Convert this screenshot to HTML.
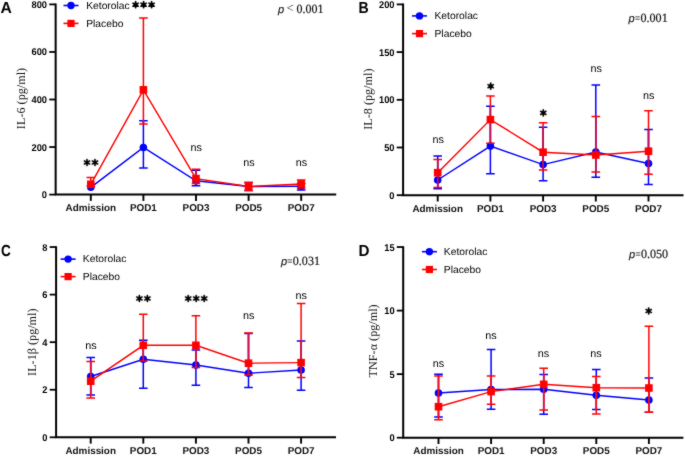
<!DOCTYPE html>
<html><head><meta charset="utf-8"><style>html,body{margin:0;padding:0;background:#fff}svg{display:block}</style></head><body>
<svg width="685" height="456" viewBox="0 0 685 456" text-rendering="geometricPrecision">
<defs><filter id="bl" x="0" y="0" width="685" height="456" filterUnits="userSpaceOnUse" color-interpolation-filters="sRGB"><feConvolveMatrix order="3" kernelMatrix="0.5 1 0.5 1 12.0 1 0.5 1 0.5" edgeMode="duplicate" preserveAlpha="true"/></filter></defs>
<g filter="url(#bl)">
<rect width="685" height="456" fill="#fff"/>
<path d="M55.65,3.6000000000000005V194.6H336.2" fill="none" stroke="#000" stroke-width="2" stroke-linejoin="miter"/>
<line x1="49.25" y1="194.60" x2="55.65" y2="194.60" stroke="#000" stroke-width="1.8"/>
<text transform="translate(47.05,198.10) scale(0.95,1)" font-family="Liberation Sans" font-weight="bold" font-size="9.8" text-anchor="end" fill="#000">0</text>
<line x1="49.25" y1="147.05" x2="55.65" y2="147.05" stroke="#000" stroke-width="1.8"/>
<text transform="translate(47.05,150.55) scale(0.95,1)" font-family="Liberation Sans" font-weight="bold" font-size="9.8" text-anchor="end" fill="#000">200</text>
<line x1="49.25" y1="99.50" x2="55.65" y2="99.50" stroke="#000" stroke-width="1.8"/>
<text transform="translate(47.05,103.00) scale(0.95,1)" font-family="Liberation Sans" font-weight="bold" font-size="9.8" text-anchor="end" fill="#000">400</text>
<line x1="49.25" y1="51.95" x2="55.65" y2="51.95" stroke="#000" stroke-width="1.8"/>
<text transform="translate(47.05,55.45) scale(0.95,1)" font-family="Liberation Sans" font-weight="bold" font-size="9.8" text-anchor="end" fill="#000">600</text>
<line x1="49.25" y1="4.40" x2="55.65" y2="4.40" stroke="#000" stroke-width="1.8"/>
<text transform="translate(47.05,7.90) scale(0.95,1)" font-family="Liberation Sans" font-weight="bold" font-size="9.8" text-anchor="end" fill="#000">800</text>
<line x1="90.80" y1="194.6" x2="90.80" y2="200.9" stroke="#000" stroke-width="1.9"/>
<text x="90.80" y="211.00" font-family="Liberation Sans" font-weight="bold" font-size="9.9" text-anchor="middle" fill="#111">Admission</text>
<line x1="143.40" y1="194.6" x2="143.40" y2="200.9" stroke="#000" stroke-width="1.9"/>
<text x="143.40" y="211.00" font-family="Liberation Sans" font-weight="bold" font-size="9.9" text-anchor="middle" fill="#111">POD1</text>
<line x1="196.00" y1="194.6" x2="196.00" y2="200.9" stroke="#000" stroke-width="1.9"/>
<text x="196.00" y="211.00" font-family="Liberation Sans" font-weight="bold" font-size="9.9" text-anchor="middle" fill="#111">POD3</text>
<line x1="248.60" y1="194.6" x2="248.60" y2="200.9" stroke="#000" stroke-width="1.9"/>
<text x="248.60" y="211.00" font-family="Liberation Sans" font-weight="bold" font-size="9.9" text-anchor="middle" fill="#111">POD5</text>
<line x1="301.20" y1="194.6" x2="301.20" y2="200.9" stroke="#000" stroke-width="1.9"/>
<text x="301.20" y="211.00" font-family="Liberation Sans" font-weight="bold" font-size="9.9" text-anchor="middle" fill="#111">POD7</text>
<text transform="translate(24.6,98.50) rotate(-90)" font-family="Liberation Serif" font-size="12.2" text-anchor="middle" fill="#111">IL-6 (pg/ml)</text>
<text transform="translate(0.6,13.1) scale(0.98,1)" font-family="Liberation Sans" font-weight="bold" font-size="16" fill="#000">A</text>
<polyline points="90.80,187.30 143.40,147.50 196.00,180.80 248.60,186.50 301.20,186.30" fill="none" stroke="#0000ff" stroke-width="1.45"/>
<path d="M143.40,167.90V120.70M139.10,167.90H147.70M139.10,120.70H147.70" stroke="#0000ff" stroke-width="1.5" fill="none"/>
<path d="M196.00,185.70V170.25M191.70,185.70H200.30M191.70,170.25H200.30" stroke="#0000ff" stroke-width="1.5" fill="none"/>
<path d="M248.60,190.50V182.40M244.30,190.50H252.90M244.30,182.40H252.90" stroke="#0000ff" stroke-width="1.5" fill="none"/>
<path d="M301.20,190.00V183.40M296.90,190.00H305.50M296.90,183.40H305.50" stroke="#0000ff" stroke-width="1.5" fill="none"/>
<circle cx="90.80" cy="187.30" r="3.8" fill="#0000ff"/>
<circle cx="143.40" cy="147.50" r="3.8" fill="#0000ff"/>
<circle cx="196.00" cy="180.80" r="3.8" fill="#0000ff"/>
<circle cx="248.60" cy="186.50" r="3.8" fill="#0000ff"/>
<circle cx="301.20" cy="186.30" r="3.8" fill="#0000ff"/>
<polyline points="90.80,184.30 143.40,89.85 196.00,178.60 248.60,186.50 301.20,184.00" fill="none" stroke="#ff0000" stroke-width="1.45"/>
<path d="M90.80,186.00V177.40M86.50,186.00H95.10M86.50,177.40H95.10" stroke="#ff0000" stroke-width="1.5" fill="none"/>
<path d="M143.40,124.00V17.90M139.10,124.00H147.70M139.10,17.90H147.70" stroke="#ff0000" stroke-width="1.5" fill="none"/>
<path d="M143.40,124.00V120.70" stroke="#c01050" stroke-width="1.5" fill="none"/>
<path d="M196.00,183.40V169.30M191.70,183.40H200.30M191.70,169.30H200.30" stroke="#ff0000" stroke-width="1.5" fill="none"/>
<path d="M196.00,183.40V170.25" stroke="#c01050" stroke-width="1.5" fill="none"/>
<path d="M248.60,190.50V182.40M244.30,190.50H252.90M244.30,182.40H252.90" stroke="#ff0000" stroke-width="1.5" fill="none"/>
<path d="M248.60,190.50V182.40" stroke="#c01050" stroke-width="1.5" fill="none"/>
<path d="M301.20,188.00V180.00M296.90,188.00H305.50M296.90,180.00H305.50" stroke="#ff0000" stroke-width="1.5" fill="none"/>
<path d="M301.20,188.00V183.40" stroke="#c01050" stroke-width="1.5" fill="none"/>
<rect x="87.00" y="180.50" width="7.6" height="7.6" fill="#ff0000"/>
<rect x="139.60" y="86.05" width="7.6" height="7.6" fill="#ff0000"/>
<rect x="192.20" y="174.80" width="7.6" height="7.6" fill="#ff0000"/>
<rect x="244.80" y="182.70" width="7.6" height="7.6" fill="#ff0000"/>
<rect x="297.40" y="180.20" width="7.6" height="7.6" fill="#ff0000"/>
<line x1="63.5" y1="5.5" x2="78.5" y2="5.5" stroke="#0000ff" stroke-width="1.6"/>
<circle cx="71.0" cy="5.5" r="3.7" fill="#0000ff"/>
<line x1="63.5" y1="23.4" x2="78.5" y2="23.4" stroke="#ff0000" stroke-width="1.6"/>
<rect x="67.4" y="19.799999999999997" width="7.2" height="7.2" fill="#ff0000"/>
<text x="86.2" y="8.7" font-family="Liberation Sans" font-size="10.3" fill="#000">Ketorolac</text>
<text x="86.2" y="26.599999999999998" font-family="Liberation Sans" font-size="10.3" fill="#000">Placebo</text>
<text x="277.9" y="12.7" font-family="Liberation Sans" font-style="italic" font-size="11" fill="#111" stroke="#111" stroke-width="0.12">p</text>
<text x="286.59999999999997" y="11.799999999999999" font-family="Liberation Serif" font-size="12.5" fill="#222">&lt;</text>
<text transform="translate(296.5,12.7) scale(0.95,1)" font-family="Liberation Serif" font-size="12.6" fill="#111" stroke="#111" stroke-width="0.2">0.001</text>
<path d="M86.00,162.50L86.45,166.10L87.55,166.10L88.00,162.50ZM86.50,163.37L89.84,164.78L90.39,163.82L87.50,161.63ZM86.50,161.63L83.61,163.82L84.16,164.78L87.50,163.37ZM88.00,162.50L87.55,158.90L86.45,158.90L86.00,162.50ZM87.50,161.63L84.16,160.22L83.61,161.18L86.50,163.37ZM87.50,163.37L90.39,161.18L89.84,160.22L86.50,161.63Z" fill="#000" stroke="#000" stroke-width="0.3" stroke-linejoin="round"/><circle cx="87.00" cy="162.50" r="1.0" fill="#000"/>
<path d="M94.00,162.50L94.45,166.10L95.55,166.10L96.00,162.50ZM94.50,163.37L97.84,164.78L98.39,163.82L95.50,161.63ZM94.50,161.63L91.61,163.82L92.16,164.78L95.50,163.37ZM96.00,162.50L95.55,158.90L94.45,158.90L94.00,162.50ZM95.50,161.63L92.16,160.22L91.61,161.18L94.50,163.37ZM95.50,163.37L98.39,161.18L97.84,160.22L94.50,161.63Z" fill="#000" stroke="#000" stroke-width="0.3" stroke-linejoin="round"/><circle cx="95.00" cy="162.50" r="1.0" fill="#000"/>
<path d="M134.60,4.70L135.05,8.30L136.15,8.30L136.60,4.70ZM135.10,5.57L138.44,6.98L138.99,6.02L136.10,3.83ZM135.10,3.83L132.21,6.02L132.76,6.98L136.10,5.57ZM136.60,4.70L136.15,1.10L135.05,1.10L134.60,4.70ZM136.10,3.83L132.76,2.42L132.21,3.38L135.10,5.57ZM136.10,5.57L138.99,3.38L138.44,2.42L135.10,3.83Z" fill="#000" stroke="#000" stroke-width="0.3" stroke-linejoin="round"/><circle cx="135.60" cy="4.70" r="1.0" fill="#000"/>
<path d="M142.60,4.70L143.05,8.30L144.15,8.30L144.60,4.70ZM143.10,5.57L146.44,6.98L146.99,6.02L144.10,3.83ZM143.10,3.83L140.21,6.02L140.76,6.98L144.10,5.57ZM144.60,4.70L144.15,1.10L143.05,1.10L142.60,4.70ZM144.10,3.83L140.76,2.42L140.21,3.38L143.10,5.57ZM144.10,5.57L146.99,3.38L146.44,2.42L143.10,3.83Z" fill="#000" stroke="#000" stroke-width="0.3" stroke-linejoin="round"/><circle cx="143.60" cy="4.70" r="1.0" fill="#000"/>
<path d="M150.60,4.70L151.05,8.30L152.15,8.30L152.60,4.70ZM151.10,5.57L154.44,6.98L154.99,6.02L152.10,3.83ZM151.10,3.83L148.21,6.02L148.76,6.98L152.10,5.57ZM152.60,4.70L152.15,1.10L151.05,1.10L150.60,4.70ZM152.10,3.83L148.76,2.42L148.21,3.38L151.10,5.57ZM152.10,5.57L154.99,3.38L154.44,2.42L151.10,3.83Z" fill="#000" stroke="#000" stroke-width="0.3" stroke-linejoin="round"/><circle cx="151.60" cy="4.70" r="1.0" fill="#000"/>
<text x="196.2" y="151.1" font-family="Liberation Sans" font-size="10.8" text-anchor="middle" fill="#000">ns</text>
<text x="248.9" y="165.6" font-family="Liberation Sans" font-size="10.8" text-anchor="middle" fill="#000">ns</text>
<text x="301.5" y="165.7" font-family="Liberation Sans" font-size="10.8" text-anchor="middle" fill="#000">ns</text>
<path d="M403.1,3.6000000000000005V195.2H683.5" fill="none" stroke="#000" stroke-width="2" stroke-linejoin="miter"/>
<line x1="396.70000000000005" y1="195.20" x2="403.1" y2="195.20" stroke="#000" stroke-width="1.8"/>
<text transform="translate(394.50,198.70) scale(0.95,1)" font-family="Liberation Sans" font-weight="bold" font-size="9.8" text-anchor="end" fill="#000">0</text>
<line x1="396.70000000000005" y1="147.50" x2="403.1" y2="147.50" stroke="#000" stroke-width="1.8"/>
<text transform="translate(394.50,151.00) scale(0.95,1)" font-family="Liberation Sans" font-weight="bold" font-size="9.8" text-anchor="end" fill="#000">50</text>
<line x1="396.70000000000005" y1="99.80" x2="403.1" y2="99.80" stroke="#000" stroke-width="1.8"/>
<text transform="translate(394.50,103.30) scale(0.95,1)" font-family="Liberation Sans" font-weight="bold" font-size="9.8" text-anchor="end" fill="#000">100</text>
<line x1="396.70000000000005" y1="52.10" x2="403.1" y2="52.10" stroke="#000" stroke-width="1.8"/>
<text transform="translate(394.50,55.60) scale(0.95,1)" font-family="Liberation Sans" font-weight="bold" font-size="9.8" text-anchor="end" fill="#000">150</text>
<line x1="396.70000000000005" y1="4.40" x2="403.1" y2="4.40" stroke="#000" stroke-width="1.8"/>
<text transform="translate(394.50,7.90) scale(0.95,1)" font-family="Liberation Sans" font-weight="bold" font-size="9.8" text-anchor="end" fill="#000">200</text>
<line x1="437.70" y1="195.2" x2="437.70" y2="201.5" stroke="#000" stroke-width="1.9"/>
<text x="437.70" y="211.60" font-family="Liberation Sans" font-weight="bold" font-size="9.9" text-anchor="middle" fill="#111">Admission</text>
<line x1="490.40" y1="195.2" x2="490.40" y2="201.5" stroke="#000" stroke-width="1.9"/>
<text x="490.40" y="211.60" font-family="Liberation Sans" font-weight="bold" font-size="9.9" text-anchor="middle" fill="#111">POD1</text>
<line x1="543.10" y1="195.2" x2="543.10" y2="201.5" stroke="#000" stroke-width="1.9"/>
<text x="543.10" y="211.60" font-family="Liberation Sans" font-weight="bold" font-size="9.9" text-anchor="middle" fill="#111">POD3</text>
<line x1="595.80" y1="195.2" x2="595.80" y2="201.5" stroke="#000" stroke-width="1.9"/>
<text x="595.80" y="211.60" font-family="Liberation Sans" font-weight="bold" font-size="9.9" text-anchor="middle" fill="#111">POD5</text>
<line x1="648.50" y1="195.2" x2="648.50" y2="201.5" stroke="#000" stroke-width="1.9"/>
<text x="648.50" y="211.60" font-family="Liberation Sans" font-weight="bold" font-size="9.9" text-anchor="middle" fill="#111">POD7</text>
<text transform="translate(372.3,99.20) rotate(-90)" font-family="Liberation Serif" font-size="12.2" text-anchor="middle" fill="#111">IL-8 (pg/ml)</text>
<text transform="translate(358.4,12.8) scale(0.88,1)" font-family="Liberation Sans" font-weight="bold" font-size="16" fill="#000">B</text>
<polyline points="437.70,180.00 490.40,146.10 543.10,164.60 595.80,152.10 648.50,163.50" fill="none" stroke="#0000ff" stroke-width="1.45"/>
<path d="M437.70,188.80V155.90M433.40,188.80H442.00M433.40,155.90H442.00" stroke="#0000ff" stroke-width="1.5" fill="none"/>
<path d="M490.40,173.80V106.30M486.10,173.80H494.70M486.10,106.30H494.70" stroke="#0000ff" stroke-width="1.5" fill="none"/>
<path d="M543.10,180.80V127.20M538.80,180.80H547.40M538.80,127.20H547.40" stroke="#0000ff" stroke-width="1.5" fill="none"/>
<path d="M595.80,177.30V85.00M591.50,177.30H600.10M591.50,85.00H600.10" stroke="#0000ff" stroke-width="1.5" fill="none"/>
<path d="M648.50,184.40V129.60M644.20,184.40H652.80M644.20,129.60H652.80" stroke="#0000ff" stroke-width="1.5" fill="none"/>
<circle cx="437.70" cy="180.00" r="3.8" fill="#0000ff"/>
<circle cx="490.40" cy="146.10" r="3.8" fill="#0000ff"/>
<circle cx="543.10" cy="164.60" r="3.8" fill="#0000ff"/>
<circle cx="595.80" cy="152.10" r="3.8" fill="#0000ff"/>
<circle cx="648.50" cy="163.50" r="3.8" fill="#0000ff"/>
<polyline points="437.70,172.70 490.40,119.60 543.10,152.20 595.80,155.00 648.50,151.20" fill="none" stroke="#ff0000" stroke-width="1.45"/>
<path d="M437.70,187.50V159.50M433.40,187.50H442.00M433.40,159.50H442.00" stroke="#ff0000" stroke-width="1.5" fill="none"/>
<path d="M437.70,187.50V159.50" stroke="#b8105a" stroke-width="1.5" fill="none"/>
<path d="M490.40,143.20V96.00M486.10,143.20H494.70M486.10,96.00H494.70" stroke="#ff0000" stroke-width="1.5" fill="none"/>
<path d="M490.40,143.20V106.30" stroke="#b8105a" stroke-width="1.5" fill="none"/>
<path d="M543.10,170.00V122.70M538.80,170.00H547.40M538.80,122.70H547.40" stroke="#ff0000" stroke-width="1.5" fill="none"/>
<path d="M543.10,170.00V127.20" stroke="#b8105a" stroke-width="1.5" fill="none"/>
<path d="M595.80,172.00V116.40M591.50,172.00H600.10M591.50,116.40H600.10" stroke="#ff0000" stroke-width="1.5" fill="none"/>
<path d="M595.80,172.00V116.40" stroke="#b8105a" stroke-width="1.5" fill="none"/>
<path d="M648.50,174.30V110.70M644.20,174.30H652.80M644.20,110.70H652.80" stroke="#ff0000" stroke-width="1.5" fill="none"/>
<path d="M648.50,174.30V129.60" stroke="#b8105a" stroke-width="1.5" fill="none"/>
<rect x="433.90" y="168.90" width="7.6" height="7.6" fill="#ff0000"/>
<rect x="486.60" y="115.80" width="7.6" height="7.6" fill="#ff0000"/>
<rect x="539.30" y="148.40" width="7.6" height="7.6" fill="#ff0000"/>
<rect x="592.00" y="151.20" width="7.6" height="7.6" fill="#ff0000"/>
<rect x="644.70" y="147.40" width="7.6" height="7.6" fill="#ff0000"/>
<line x1="412" y1="15.9" x2="427" y2="15.9" stroke="#0000ff" stroke-width="1.6"/>
<circle cx="419.5" cy="15.9" r="3.7" fill="#0000ff"/>
<line x1="412" y1="33.6" x2="427" y2="33.6" stroke="#ff0000" stroke-width="1.6"/>
<rect x="415.9" y="30.0" width="7.2" height="7.2" fill="#ff0000"/>
<text x="434.5" y="19.1" font-family="Liberation Sans" font-size="10.3" fill="#000">Ketorolac</text>
<text x="434.5" y="36.800000000000004" font-family="Liberation Sans" font-size="10.3" fill="#000">Placebo</text>
<text x="628.6" y="21.6" font-family="Liberation Sans" font-style="italic" font-size="11" fill="#111" stroke="#111" stroke-width="0.12">p</text>
<text transform="translate(635.0,21.6) scale(0.75,1)" font-family="Liberation Serif" font-size="12" fill="#111" stroke="#111" stroke-width="0.2">=</text>
<text transform="translate(640.5,21.6) scale(0.96,1)" font-family="Liberation Serif" font-size="12.6" fill="#111" stroke="#111" stroke-width="0.2">0.001</text>
<text x="438.3" y="142.7" font-family="Liberation Sans" font-size="10.8" text-anchor="middle" fill="#000">ns</text>
<path d="M489.70,86.20L490.15,89.80L491.25,89.80L491.70,86.20ZM490.20,87.07L493.54,88.48L494.09,87.52L491.20,85.33ZM490.20,85.33L487.31,87.52L487.86,88.48L491.20,87.07ZM491.70,86.20L491.25,82.60L490.15,82.60L489.70,86.20ZM491.20,85.33L487.86,83.92L487.31,84.88L490.20,87.07ZM491.20,87.07L494.09,84.88L493.54,83.92L490.20,85.33Z" fill="#000" stroke="#000" stroke-width="0.3" stroke-linejoin="round"/><circle cx="490.70" cy="86.20" r="1.0" fill="#000"/>
<path d="M542.30,112.90L542.75,116.50L543.85,116.50L544.30,112.90ZM542.80,113.77L546.14,115.18L546.69,114.22L543.80,112.03ZM542.80,112.03L539.91,114.22L540.46,115.18L543.80,113.77ZM544.30,112.90L543.85,109.30L542.75,109.30L542.30,112.90ZM543.80,112.03L540.46,110.62L539.91,111.58L542.80,113.77ZM543.80,113.77L546.69,111.58L546.14,110.62L542.80,112.03Z" fill="#000" stroke="#000" stroke-width="0.3" stroke-linejoin="round"/><circle cx="543.30" cy="112.90" r="1.0" fill="#000"/>
<text x="596.1" y="72.4" font-family="Liberation Sans" font-size="10.8" text-anchor="middle" fill="#000">ns</text>
<text x="648.7" y="98.60000000000001" font-family="Liberation Sans" font-size="10.8" text-anchor="middle" fill="#000">ns</text>
<path d="M56.1,246.25V437.3H336" fill="none" stroke="#000" stroke-width="2" stroke-linejoin="miter"/>
<line x1="49.7" y1="437.30" x2="56.1" y2="437.30" stroke="#000" stroke-width="1.8"/>
<text transform="translate(47.50,440.80) scale(0.95,1)" font-family="Liberation Sans" font-weight="bold" font-size="9.8" text-anchor="end" fill="#000">0</text>
<line x1="49.7" y1="389.74" x2="56.1" y2="389.74" stroke="#000" stroke-width="1.8"/>
<text transform="translate(47.50,393.24) scale(0.95,1)" font-family="Liberation Sans" font-weight="bold" font-size="9.8" text-anchor="end" fill="#000">2</text>
<line x1="49.7" y1="342.18" x2="56.1" y2="342.18" stroke="#000" stroke-width="1.8"/>
<text transform="translate(47.50,345.68) scale(0.95,1)" font-family="Liberation Sans" font-weight="bold" font-size="9.8" text-anchor="end" fill="#000">4</text>
<line x1="49.7" y1="294.61" x2="56.1" y2="294.61" stroke="#000" stroke-width="1.8"/>
<text transform="translate(47.50,298.11) scale(0.95,1)" font-family="Liberation Sans" font-weight="bold" font-size="9.8" text-anchor="end" fill="#000">6</text>
<line x1="49.7" y1="247.05" x2="56.1" y2="247.05" stroke="#000" stroke-width="1.8"/>
<text transform="translate(47.50,250.55) scale(0.95,1)" font-family="Liberation Sans" font-weight="bold" font-size="9.8" text-anchor="end" fill="#000">8</text>
<line x1="90.70" y1="437.3" x2="90.70" y2="443.6" stroke="#000" stroke-width="1.9"/>
<text x="90.70" y="453.70" font-family="Liberation Sans" font-weight="bold" font-size="9.9" text-anchor="middle" fill="#111">Admission</text>
<line x1="143.30" y1="437.3" x2="143.30" y2="443.6" stroke="#000" stroke-width="1.9"/>
<text x="143.30" y="453.70" font-family="Liberation Sans" font-weight="bold" font-size="9.9" text-anchor="middle" fill="#111">POD1</text>
<line x1="195.90" y1="437.3" x2="195.90" y2="443.6" stroke="#000" stroke-width="1.9"/>
<text x="195.90" y="453.70" font-family="Liberation Sans" font-weight="bold" font-size="9.9" text-anchor="middle" fill="#111">POD3</text>
<line x1="248.50" y1="437.3" x2="248.50" y2="443.6" stroke="#000" stroke-width="1.9"/>
<text x="248.50" y="453.70" font-family="Liberation Sans" font-weight="bold" font-size="9.9" text-anchor="middle" fill="#111">POD5</text>
<line x1="301.10" y1="437.3" x2="301.10" y2="443.6" stroke="#000" stroke-width="1.9"/>
<text x="301.10" y="453.70" font-family="Liberation Sans" font-weight="bold" font-size="9.9" text-anchor="middle" fill="#111">POD7</text>
<text transform="translate(35.6,342.18) rotate(-90)" font-family="Liberation Serif" font-size="12.2" text-anchor="middle" fill="#111">IL-1β (pg/ml)</text>
<text transform="translate(1.1,256.1) scale(0.85,1)" font-family="Liberation Sans" font-weight="bold" font-size="16" fill="#000">C</text>
<polyline points="90.70,376.50 143.30,359.30 195.90,365.00 248.50,373.20 301.10,370.00" fill="none" stroke="#0000ff" stroke-width="1.45"/>
<path d="M90.70,394.90V357.50M86.40,394.90H95.00M86.40,357.50H95.00" stroke="#0000ff" stroke-width="1.5" fill="none"/>
<path d="M143.30,388.20V340.30M139.00,388.20H147.60M139.00,340.30H147.60" stroke="#0000ff" stroke-width="1.5" fill="none"/>
<path d="M195.90,385.30V350.00M191.60,385.30H200.20M191.60,350.00H200.20" stroke="#0000ff" stroke-width="1.5" fill="none"/>
<path d="M248.50,387.60V333.40M244.20,387.60H252.80M244.20,333.40H252.80" stroke="#0000ff" stroke-width="1.5" fill="none"/>
<path d="M301.10,390.30V341.00M296.80,390.30H305.40M296.80,341.00H305.40" stroke="#0000ff" stroke-width="1.5" fill="none"/>
<circle cx="90.70" cy="376.50" r="3.8" fill="#0000ff"/>
<circle cx="143.30" cy="359.30" r="3.8" fill="#0000ff"/>
<circle cx="195.90" cy="365.00" r="3.8" fill="#0000ff"/>
<circle cx="248.50" cy="373.20" r="3.8" fill="#0000ff"/>
<circle cx="301.10" cy="370.00" r="3.8" fill="#0000ff"/>
<polyline points="90.70,381.20 143.30,345.30 195.90,345.30 248.50,363.20 301.10,362.60" fill="none" stroke="#ff0000" stroke-width="1.45"/>
<path d="M90.70,398.00V361.60M86.40,398.00H95.00M86.40,361.60H95.00" stroke="#ff0000" stroke-width="1.5" fill="none"/>
<path d="M90.70,394.90V361.60" stroke="#d01048" stroke-width="1.5" fill="none"/>
<path d="M143.30,361.10V314.20M139.00,361.10H147.60M139.00,314.20H147.60" stroke="#ff0000" stroke-width="1.5" fill="none"/>
<path d="M143.30,361.10V340.30" stroke="#d01048" stroke-width="1.5" fill="none"/>
<path d="M195.90,367.60V315.80M191.60,367.60H200.20M191.60,315.80H200.20" stroke="#ff0000" stroke-width="1.5" fill="none"/>
<path d="M195.90,367.60V350.00" stroke="#d01048" stroke-width="1.5" fill="none"/>
<path d="M248.50,375.00V332.90M244.20,375.00H252.80M244.20,332.90H252.80" stroke="#ff0000" stroke-width="1.5" fill="none"/>
<path d="M248.50,375.00V333.40" stroke="#d01048" stroke-width="1.5" fill="none"/>
<path d="M301.10,377.60V303.40M296.80,377.60H305.40M296.80,303.40H305.40" stroke="#ff0000" stroke-width="1.5" fill="none"/>
<path d="M301.10,377.60V341.00" stroke="#d01048" stroke-width="1.5" fill="none"/>
<rect x="86.90" y="377.40" width="7.6" height="7.6" fill="#ff0000"/>
<rect x="139.50" y="341.50" width="7.6" height="7.6" fill="#ff0000"/>
<rect x="192.10" y="341.50" width="7.6" height="7.6" fill="#ff0000"/>
<rect x="244.70" y="359.40" width="7.6" height="7.6" fill="#ff0000"/>
<rect x="297.30" y="358.80" width="7.6" height="7.6" fill="#ff0000"/>
<line x1="60.6" y1="259.1" x2="75.6" y2="259.1" stroke="#0000ff" stroke-width="1.6"/>
<circle cx="68.1" cy="259.1" r="3.7" fill="#0000ff"/>
<line x1="60.6" y1="276.6" x2="75.6" y2="276.6" stroke="#ff0000" stroke-width="1.6"/>
<rect x="64.5" y="273.0" width="7.2" height="7.2" fill="#ff0000"/>
<text x="82.8" y="262.3" font-family="Liberation Sans" font-size="10.3" fill="#000">Ketorolac</text>
<text x="82.8" y="279.8" font-family="Liberation Sans" font-size="10.3" fill="#000">Placebo</text>
<text x="280.9" y="265.3" font-family="Liberation Sans" font-style="italic" font-size="11" fill="#111" stroke="#111" stroke-width="0.12">p</text>
<text transform="translate(287.29999999999995,265.3) scale(0.75,1)" font-family="Liberation Serif" font-size="12" fill="#111" stroke="#111" stroke-width="0.2">=</text>
<text transform="translate(292.79999999999995,265.3) scale(0.96,1)" font-family="Liberation Serif" font-size="12.6" fill="#111" stroke="#111" stroke-width="0.2">0.031</text>
<text x="91" y="349.0" font-family="Liberation Sans" font-size="10.8" text-anchor="middle" fill="#000">ns</text>
<path d="M138.40,298.50L138.85,302.10L139.95,302.10L140.40,298.50ZM138.90,299.37L142.24,300.78L142.79,299.82L139.90,297.63ZM138.90,297.63L136.01,299.82L136.56,300.78L139.90,299.37ZM140.40,298.50L139.95,294.90L138.85,294.90L138.40,298.50ZM139.90,297.63L136.56,296.22L136.01,297.18L138.90,299.37ZM139.90,299.37L142.79,297.18L142.24,296.22L138.90,297.63Z" fill="#000" stroke="#000" stroke-width="0.3" stroke-linejoin="round"/><circle cx="139.40" cy="298.50" r="1.0" fill="#000"/>
<path d="M146.40,298.50L146.85,302.10L147.95,302.10L148.40,298.50ZM146.90,299.37L150.24,300.78L150.79,299.82L147.90,297.63ZM146.90,297.63L144.01,299.82L144.56,300.78L147.90,299.37ZM148.40,298.50L147.95,294.90L146.85,294.90L146.40,298.50ZM147.90,297.63L144.56,296.22L144.01,297.18L146.90,299.37ZM147.90,299.37L150.79,297.18L150.24,296.22L146.90,297.63Z" fill="#000" stroke="#000" stroke-width="0.3" stroke-linejoin="round"/><circle cx="147.40" cy="298.50" r="1.0" fill="#000"/>
<path d="M187.20,298.50L187.65,302.10L188.75,302.10L189.20,298.50ZM187.70,299.37L191.04,300.78L191.59,299.82L188.70,297.63ZM187.70,297.63L184.81,299.82L185.36,300.78L188.70,299.37ZM189.20,298.50L188.75,294.90L187.65,294.90L187.20,298.50ZM188.70,297.63L185.36,296.22L184.81,297.18L187.70,299.37ZM188.70,299.37L191.59,297.18L191.04,296.22L187.70,297.63Z" fill="#000" stroke="#000" stroke-width="0.3" stroke-linejoin="round"/><circle cx="188.20" cy="298.50" r="1.0" fill="#000"/>
<path d="M195.20,298.50L195.65,302.10L196.75,302.10L197.20,298.50ZM195.70,299.37L199.04,300.78L199.59,299.82L196.70,297.63ZM195.70,297.63L192.81,299.82L193.36,300.78L196.70,299.37ZM197.20,298.50L196.75,294.90L195.65,294.90L195.20,298.50ZM196.70,297.63L193.36,296.22L192.81,297.18L195.70,299.37ZM196.70,299.37L199.59,297.18L199.04,296.22L195.70,297.63Z" fill="#000" stroke="#000" stroke-width="0.3" stroke-linejoin="round"/><circle cx="196.20" cy="298.50" r="1.0" fill="#000"/>
<path d="M203.20,298.50L203.65,302.10L204.75,302.10L205.20,298.50ZM203.70,299.37L207.04,300.78L207.59,299.82L204.70,297.63ZM203.70,297.63L200.81,299.82L201.36,300.78L204.70,299.37ZM205.20,298.50L204.75,294.90L203.65,294.90L203.20,298.50ZM204.70,297.63L201.36,296.22L200.81,297.18L203.70,299.37ZM204.70,299.37L207.59,297.18L207.04,296.22L203.70,297.63Z" fill="#000" stroke="#000" stroke-width="0.3" stroke-linejoin="round"/><circle cx="204.20" cy="298.50" r="1.0" fill="#000"/>
<text x="248.6" y="318.59999999999997" font-family="Liberation Sans" font-size="10.8" text-anchor="middle" fill="#000">ns</text>
<text x="301.1" y="299.2" font-family="Liberation Sans" font-size="10.8" text-anchor="middle" fill="#000">ns</text>
<path d="M403.2,246.25V437.7H683.4" fill="none" stroke="#000" stroke-width="2" stroke-linejoin="miter"/>
<line x1="396.8" y1="437.70" x2="403.2" y2="437.70" stroke="#000" stroke-width="1.8"/>
<text transform="translate(394.60,441.20) scale(0.95,1)" font-family="Liberation Sans" font-weight="bold" font-size="9.8" text-anchor="end" fill="#000">0</text>
<line x1="396.8" y1="374.15" x2="403.2" y2="374.15" stroke="#000" stroke-width="1.8"/>
<text transform="translate(394.60,377.65) scale(0.95,1)" font-family="Liberation Sans" font-weight="bold" font-size="9.8" text-anchor="end" fill="#000">5</text>
<line x1="396.8" y1="310.60" x2="403.2" y2="310.60" stroke="#000" stroke-width="1.8"/>
<text transform="translate(394.60,314.10) scale(0.95,1)" font-family="Liberation Sans" font-weight="bold" font-size="9.8" text-anchor="end" fill="#000">10</text>
<line x1="396.8" y1="247.05" x2="403.2" y2="247.05" stroke="#000" stroke-width="1.8"/>
<text transform="translate(394.60,250.55) scale(0.95,1)" font-family="Liberation Sans" font-weight="bold" font-size="9.8" text-anchor="end" fill="#000">15</text>
<line x1="438.50" y1="437.7" x2="438.50" y2="444.0" stroke="#000" stroke-width="1.9"/>
<text x="438.50" y="454.10" font-family="Liberation Sans" font-weight="bold" font-size="9.9" text-anchor="middle" fill="#111">Admission</text>
<line x1="491.10" y1="437.7" x2="491.10" y2="444.0" stroke="#000" stroke-width="1.9"/>
<text x="491.10" y="454.10" font-family="Liberation Sans" font-weight="bold" font-size="9.9" text-anchor="middle" fill="#111">POD1</text>
<line x1="543.70" y1="437.7" x2="543.70" y2="444.0" stroke="#000" stroke-width="1.9"/>
<text x="543.70" y="454.10" font-family="Liberation Sans" font-weight="bold" font-size="9.9" text-anchor="middle" fill="#111">POD3</text>
<line x1="596.30" y1="437.7" x2="596.30" y2="444.0" stroke="#000" stroke-width="1.9"/>
<text x="596.30" y="454.10" font-family="Liberation Sans" font-weight="bold" font-size="9.9" text-anchor="middle" fill="#111">POD5</text>
<line x1="648.90" y1="437.7" x2="648.90" y2="444.0" stroke="#000" stroke-width="1.9"/>
<text x="648.90" y="454.10" font-family="Liberation Sans" font-weight="bold" font-size="9.9" text-anchor="middle" fill="#111">POD7</text>
<text transform="translate(377.4,340.88) rotate(-90)" font-family="Liberation Serif" font-size="12.2" text-anchor="middle" fill="#111">TNF-α (pg/ml)</text>
<text transform="translate(358.6,255.6) scale(0.95,1)" font-family="Liberation Sans" font-weight="bold" font-size="16" fill="#000">D</text>
<polyline points="438.50,393.00 491.10,389.50 543.70,389.30 596.30,395.20 648.90,400.00" fill="none" stroke="#0000ff" stroke-width="1.45"/>
<path d="M438.50,417.00V374.20M434.20,417.00H442.80M434.20,374.20H442.80" stroke="#0000ff" stroke-width="1.5" fill="none"/>
<path d="M491.10,409.20V349.40M486.80,409.20H495.40M486.80,349.40H495.40" stroke="#0000ff" stroke-width="1.5" fill="none"/>
<path d="M543.70,414.30V374.50M539.40,414.30H548.00M539.40,374.50H548.00" stroke="#0000ff" stroke-width="1.5" fill="none"/>
<path d="M596.30,409.40V369.60M592.00,409.40H600.60M592.00,369.60H600.60" stroke="#0000ff" stroke-width="1.5" fill="none"/>
<path d="M648.90,412.30V378.00M644.60,412.30H653.20M644.60,378.00H653.20" stroke="#0000ff" stroke-width="1.5" fill="none"/>
<circle cx="438.50" cy="393.00" r="3.8" fill="#0000ff"/>
<circle cx="491.10" cy="389.50" r="3.8" fill="#0000ff"/>
<circle cx="543.70" cy="389.30" r="3.8" fill="#0000ff"/>
<circle cx="596.30" cy="395.20" r="3.8" fill="#0000ff"/>
<circle cx="648.90" cy="400.00" r="3.8" fill="#0000ff"/>
<polyline points="438.50,406.70 491.10,391.60 543.70,384.30 596.30,387.70 648.90,388.00" fill="none" stroke="#ff0000" stroke-width="1.45"/>
<path d="M438.50,419.80V376.00M434.20,419.80H442.80M434.20,376.00H442.80" stroke="#ff0000" stroke-width="1.5" fill="none"/>
<path d="M438.50,417.00V376.00" stroke="#f01020" stroke-width="1.5" fill="none"/>
<path d="M491.10,404.30V375.90M486.80,404.30H495.40M486.80,375.90H495.40" stroke="#ff0000" stroke-width="1.5" fill="none"/>
<path d="M491.10,404.30V375.90" stroke="#f01020" stroke-width="1.5" fill="none"/>
<path d="M543.70,410.00V368.20M539.40,410.00H548.00M539.40,368.20H548.00" stroke="#ff0000" stroke-width="1.5" fill="none"/>
<path d="M543.70,410.00V374.50" stroke="#f01020" stroke-width="1.5" fill="none"/>
<path d="M596.30,413.90V376.50M592.00,413.90H600.60M592.00,376.50H600.60" stroke="#ff0000" stroke-width="1.5" fill="none"/>
<path d="M596.30,409.40V376.50" stroke="#f01020" stroke-width="1.5" fill="none"/>
<path d="M648.90,412.30V326.30M644.60,412.30H653.20M644.60,326.30H653.20" stroke="#ff0000" stroke-width="1.5" fill="none"/>
<path d="M648.90,412.30V378.00" stroke="#f01020" stroke-width="1.5" fill="none"/>
<rect x="434.70" y="402.90" width="7.6" height="7.6" fill="#ff0000"/>
<rect x="487.30" y="387.80" width="7.6" height="7.6" fill="#ff0000"/>
<rect x="539.90" y="380.50" width="7.6" height="7.6" fill="#ff0000"/>
<rect x="592.50" y="383.90" width="7.6" height="7.6" fill="#ff0000"/>
<rect x="645.10" y="384.20" width="7.6" height="7.6" fill="#ff0000"/>
<line x1="421.9" y1="251.7" x2="436.9" y2="251.7" stroke="#0000ff" stroke-width="1.6"/>
<circle cx="429.4" cy="251.7" r="3.7" fill="#0000ff"/>
<line x1="421.9" y1="269.5" x2="436.9" y2="269.5" stroke="#ff0000" stroke-width="1.6"/>
<rect x="425.79999999999995" y="265.9" width="7.2" height="7.2" fill="#ff0000"/>
<text x="443.8" y="254.89999999999998" font-family="Liberation Sans" font-size="10.3" fill="#000">Ketorolac</text>
<text x="443.8" y="272.7" font-family="Liberation Sans" font-size="10.3" fill="#000">Placebo</text>
<text x="629" y="257.7" font-family="Liberation Sans" font-style="italic" font-size="11" fill="#111" stroke="#111" stroke-width="0.12">p</text>
<text transform="translate(635.4,257.7) scale(0.75,1)" font-family="Liberation Serif" font-size="12" fill="#111" stroke="#111" stroke-width="0.2">=</text>
<text transform="translate(640.9,257.7) scale(0.96,1)" font-family="Liberation Serif" font-size="12.6" fill="#111" stroke="#111" stroke-width="0.2">0.050</text>
<text x="438.5" y="367.2" font-family="Liberation Sans" font-size="10.8" text-anchor="middle" fill="#000">ns</text>
<text x="490.9" y="339.0" font-family="Liberation Sans" font-size="10.8" text-anchor="middle" fill="#000">ns</text>
<text x="543.5" y="357.4" font-family="Liberation Sans" font-size="10.8" text-anchor="middle" fill="#000">ns</text>
<text x="596" y="357.4" font-family="Liberation Sans" font-size="10.8" text-anchor="middle" fill="#000">ns</text>
<path d="M647.70,311.00L648.15,314.60L649.25,314.60L649.70,311.00ZM648.20,311.87L651.54,313.28L652.09,312.32L649.20,310.13ZM648.20,310.13L645.31,312.32L645.86,313.28L649.20,311.87ZM649.70,311.00L649.25,307.40L648.15,307.40L647.70,311.00ZM649.20,310.13L645.86,308.72L645.31,309.68L648.20,311.87ZM649.20,311.87L652.09,309.68L651.54,308.72L648.20,310.13Z" fill="#000" stroke="#000" stroke-width="0.3" stroke-linejoin="round"/><circle cx="648.70" cy="311.00" r="1.0" fill="#000"/>
</g>
</svg>
</body></html>
